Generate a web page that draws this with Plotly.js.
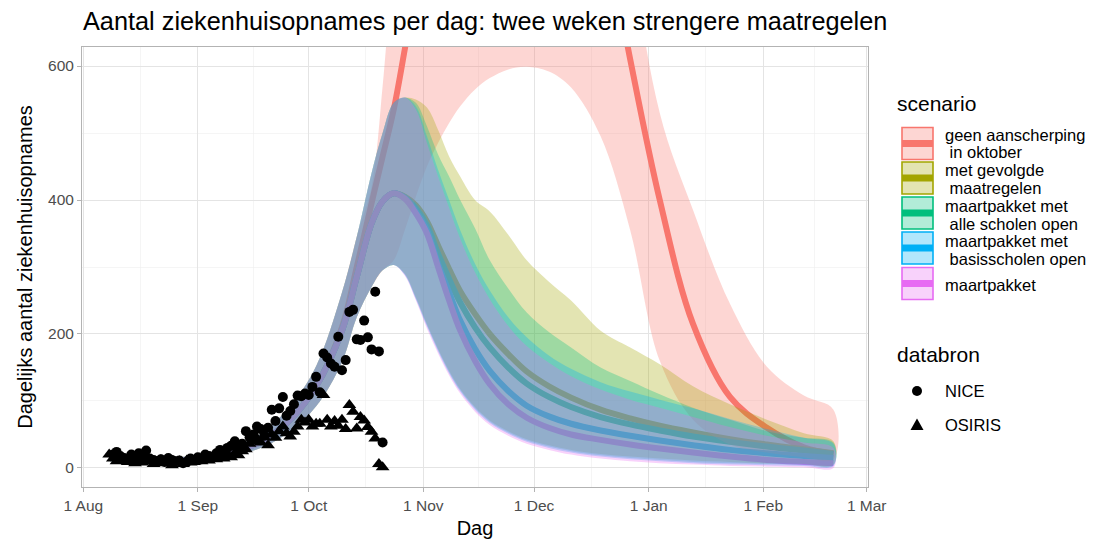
<!DOCTYPE html>
<html><head><meta charset="utf-8">
<script src="https://cdn.plot.ly/plotly-3.0.1.min.js"></script>
<style>html,body{margin:0;padding:0;background:#fff}#chart{width:1093px;height:544px}</style>
</head><body><div id="chart"></div>
<script>
// ---------- data ----------
const modelDates = ['2020-08-08','2020-08-15','2020-08-22','2020-08-29','2020-09-05','2020-09-12','2020-09-19','2020-09-26','2020-10-03','2020-10-10','2020-10-14','2020-10-18','2020-10-21','2020-10-24','2020-10-27','2020-10-30','2020-11-02','2020-11-05','2020-11-08','2020-11-11','2020-11-15','2020-11-19','2020-11-24','2020-11-29','2020-12-05','2020-12-11','2020-12-19','2020-12-27','2021-01-04','2021-01-13','2021-01-23','2021-02-02','2021-02-12','2021-02-20'];

const scenarioNames = ['geen aanscherping in oktober','met gevolgde maatregelen','maartpakket met alle scholen open','maartpakket met basisscholen open','maartpakket'];

const redMed = [15,13,12,12,17,26,42,72,122,210,300,395,465,535,625,720,810,890,960,1020,1080,1120,1140,1130,1090,1010,840,610,400,215,106,60,31,21];
const redUp  = [19,17,16,17,22,34,55,92,152,262,345,420,570,780,1000,1300,1600,1900,2100,2300,2400,2500,2500,2400,2200,1900,1400,800,530,385,245,151,108,87];
const redLo  = [11,10,9,9,13,20,32,55,92,158,225,270,295,310,355,405,450,485,515,540,565,582,595,599,592,568,495,355,160,72,35,23,16,13];

const oliveMed = [15,13,12,12,17,26,42,72,122,205,285,365,398,410,405,392,368,332,297,264,230,200,170,144,122,105,87,74,63,53,43,35,28,22];
const oliveUp  = [19,17,16,17,22,34,55,92,152,262,345,440,500,545,553,550,538,505,465,435,400,383,348,310,278,250,205,180,155,122,95,72,52,40];
const oliveLo  = [11,10,9,9,13,20,32,55,92,158,225,270,295,303,290,255,215,178,145,118,91,71,55,43,34,27,21,17,14,11,9,7,6,5];

const greenMed = [15,13,12,12,17,26,42,72,122,205,285,365,398,410,404,388,362,320,282,247,210,180,150,126,106,91,76,65,56,47,39,32,26,21];
const greenUp  = [19,17,16,17,22,34,55,92,152,262,345,440,500,545,553,545,510,468,435,400,358,310,268,232,203,180,150,130,110,90,72,55,45,38];
const greenLo  = [11,10,9,9,13,20,32,55,92,158,225,270,295,303,289,253,213,176,143,116,89,69,53,41,32,25,19,15,12,9,7,6,5,4];

const blueMed = [15,13,12,12,17,26,42,72,122,205,285,365,398,410,403,383,355,305,262,220,178,145,115,93,77,66,56,48,41,34,27,22,18,15];
const blueUp  = [19,17,16,17,22,34,55,92,152,262,345,440,500,545,553,540,495,445,400,355,305,265,225,195,168,148,128,114,102,89,73,58,45,36];
const blueLo  = [11,10,9,9,13,20,32,55,92,158,225,270,295,303,288,252,211,174,141,114,87,67,51,39,30,23,17,13,10,7,5,4,3,3];

const magMed = [15,13,12,12,17,26,42,72,122,205,285,365,398,410,402,380,350,300,250,205,160,125,95,75,60,50,42,35,29,23,17,12,9,7];
const magUp  = [19,17,16,17,22,34,55,92,152,262,345,440,500,545,553,535,485,435,388,342,292,252,212,182,157,137,117,102,90,76,61,48,38,30];
const magLo  = [11,10,9,9,13,20,32,55,92,158,225,270,295,303,287,250,208,171,138,111,84,64,48,36,27,20,14,10,7,5,3,2,1,0];

const niceDates = ['2020-08-09','2020-08-10','2020-08-11','2020-08-12','2020-08-13','2020-08-14','2020-08-15','2020-08-16','2020-08-17','2020-08-18','2020-08-19','2020-08-20','2020-08-21','2020-08-22','2020-08-23','2020-08-24','2020-08-25','2020-08-26','2020-08-27','2020-08-28','2020-08-29','2020-08-30','2020-08-31','2020-09-01','2020-09-02','2020-09-03','2020-09-04','2020-09-05','2020-09-06','2020-09-07','2020-09-08','2020-09-09','2020-09-10','2020-09-11','2020-09-12','2020-09-13','2020-09-14','2020-09-15','2020-09-16','2020-09-17','2020-09-18','2020-09-19','2020-09-20','2020-09-21','2020-09-22','2020-09-23','2020-09-24','2020-09-25','2020-09-26','2020-09-27','2020-09-28','2020-09-29','2020-09-30','2020-10-01','2020-10-02','2020-10-03','2020-10-04','2020-10-05','2020-10-06','2020-10-07','2020-10-08','2020-10-09','2020-10-10','2020-10-11','2020-10-12','2020-10-13','2020-10-14','2020-10-15','2020-10-16','2020-10-17','2020-10-18','2020-10-19','2020-10-20','2020-10-21'];
const niceValues = [20,24,18,15,14,20,12,22,16,26,14,12,10,13,9,15,12,10,11,7,9,14,12,16,13,20,18,16,22,27,24,30,33,40,28,36,55,46,50,62,58,48,60,87,70,89,106,78,85,95,108,107,111,109,121,136,113,171,165,156,151,196,146,161,233,236,192,191,220,195,177,263,174,38];

const osirisDates = ['2020-08-08','2020-08-09','2020-08-10','2020-08-11','2020-08-12','2020-08-13','2020-08-14','2020-08-15','2020-08-16','2020-08-17','2020-08-18','2020-08-19','2020-08-20','2020-08-21','2020-08-22','2020-08-23','2020-08-24','2020-08-25','2020-08-26','2020-08-27','2020-08-28','2020-08-29','2020-08-30','2020-08-31','2020-09-01','2020-09-02','2020-09-03','2020-09-04','2020-09-05','2020-09-06','2020-09-07','2020-09-08','2020-09-09','2020-09-10','2020-09-11','2020-09-12','2020-09-13','2020-09-14','2020-09-15','2020-09-16','2020-09-17','2020-09-18','2020-09-19','2020-09-20','2020-09-21','2020-09-22','2020-09-23','2020-09-24','2020-09-25','2020-09-26','2020-09-27','2020-09-28','2020-09-29','2020-09-30','2020-10-01','2020-10-02','2020-10-03','2020-10-04','2020-10-05','2020-10-06','2020-10-07','2020-10-08','2020-10-09','2020-10-10','2020-10-11','2020-10-12','2020-10-13','2020-10-14','2020-10-15','2020-10-16','2020-10-17','2020-10-18','2020-10-19','2020-10-20','2020-10-21'];
const osirisValues = [20,14,10,16,12,9,13,7,11,8,12,10,6,9,12,7,9,4,8,10,6,11,8,9,12,10,14,11,15,13,17,14,20,16,22,19,25,28,36,40,44,38,46,34,50,45,55,62,52,47,54,62,72,68,72,62,66,66,109,72,62,70,63,72,58,94,84,59,76,71,61,54,44,6,1];

const xTickVals = ['2020-08-01','2020-09-01','2020-10-01','2020-11-01','2020-12-01','2021-01-01','2021-02-01','2021-03-01'];
const xTickText = ['1 Aug','1 Sep','1 Oct','1 Nov','1 Dec','1 Jan','1 Feb','1 Mar'];
const xMinorVals = ['2020-08-16 12:00','2020-09-16','2020-10-16 12:00','2020-11-16','2020-12-16 12:00','2021-01-16 12:00','2021-02-15'];
const yTickVals = [0,200,400,600];
const yMinorVals = [100,300,500];

// ---------- styles ----------
const colors = ['#F8766D','#A3A500','#00BF7D','#00B0F6','#E76BF3'];
function rgba(hex,a){const n=parseInt(hex.slice(1),16);return `rgba(${n>>16},${(n>>8)&255},${n&255},${a})`;}

const meds = [redMed, oliveMed, greenMed, blueMed, magMed];
const ups = [redUp, oliveUp, greenUp, blueUp, magUp];
const los = [redLo, oliveLo, greenLo, blueLo, magLo];

const traces = [];
// median lines first (ribbons are drawn over them)
for (let i=0;i<5;i++){
  traces.push({type:'scatter',mode:'lines',x:modelDates,y:meds[i],name:scenarioNames[i],
    line:{color:colors[i],width:6,shape:'spline',smoothing:1},showlegend:false,hoverinfo:'skip'});
}
for (let i=0;i<5;i++){
  traces.push({type:'scatter',mode:'lines',
    x:modelDates.concat(modelDates.slice().reverse()),
    y:ups[i].concat(los[i].slice().reverse()),
    fill:'toself',fillcolor:rgba(colors[i],0.3),
    line:{width:0,shape:'spline',smoothing:1,color:'rgba(0,0,0,0)'},showlegend:false,hoverinfo:'skip'});
}
traces.push({type:'scatter',mode:'markers',x:niceDates,y:niceValues,name:'NICE',
  marker:{symbol:'circle',size:10,color:'#000'},showlegend:false});
traces.push({type:'scatter',mode:'markers',x:osirisDates,y:osirisValues,name:'OSIRIS',
  marker:{symbol:'triangle-up',size:12,color:'#000'},showlegend:false});

// ---------- layout ----------
const L=82, R=868, T=47, B=487;
const px = X => (X-L)/(R-L);
const py = Y => (B-Y)/(B-T);
const FONT = 'Liberation Sans, Arial, sans-serif';

const shapes = [], annotations = [];
const boxTops = [127.5,162,197,232,267.5];
for (let i=0;i<5;i++){
  shapes.push({type:'rect',xref:'paper',yref:'paper',x0:px(902),x1:px(933),y0:py(boxTops[i]),y1:py(boxTops[i]+32),
    fillcolor:rgba(colors[i],0.3),line:{color:colors[i],width:1.6},layer:'above'});
  shapes.push({type:'line',xref:'paper',yref:'paper',x0:px(902),x1:px(933),y0:py(boxTops[i]+16),y1:py(boxTops[i]+16),
    line:{color:colors[i],width:7},layer:'above'});
}
const legendLines = [
  ['geen aanscherping',135],['\u00a0in oktober',152],
  ['met gevolgde',170],['\u00a0maatregelen',188],
  ['maartpakket met',206],['\u00a0alle scholen open',224],
  ['maartpakket met',241],['\u00a0basisscholen open',259],
  ['maartpakket',285]
];
legendLines.forEach(([t,y])=>annotations.push({xref:'paper',yref:'paper',x:px(943),y:py(y),text:t,showarrow:false,
  xanchor:'left',yanchor:'middle',font:{family:FONT,size:16.5,color:'#000'}}));
annotations.push({xref:'paper',yref:'paper',x:px(895),y:py(104),text:'scenario',showarrow:false,xanchor:'left',yanchor:'middle',
  font:{family:FONT,size:21,color:'#000'}});
annotations.push({xref:'paper',yref:'paper',x:px(895),y:py(354),text:'databron',showarrow:false,xanchor:'left',yanchor:'middle',
  font:{family:FONT,size:21,color:'#000'}});
annotations.push({xref:'paper',yref:'paper',x:px(943),y:py(391),text:'NICE',showarrow:false,xanchor:'left',yanchor:'middle',
  font:{family:FONT,size:16.5,color:'#000'}});
annotations.push({xref:'paper',yref:'paper',x:px(943),y:py(425),text:'OSIRIS',showarrow:false,xanchor:'left',yanchor:'middle',
  font:{family:FONT,size:16.5,color:'#000'}});
shapes.push({type:'circle',xref:'paper',yref:'paper',xsizemode:'pixel',ysizemode:'pixel',xanchor:px(917),yanchor:py(391),
  x0:-5,x1:5,y0:-5,y1:5,fillcolor:'#000',line:{width:0}});
shapes.push({type:'path',xref:'paper',yref:'paper',xsizemode:'pixel',ysizemode:'pixel',xanchor:px(917),yanchor:py(425),
  path:'M-6.5,-5L6.5,-5L0,6.5Z',fillcolor:'#000',line:{width:0}});

const layout = {
  width:1093,height:544,
  margin:{l:L,r:1093-R,t:T,b:544-B,pad:0},
  paper_bgcolor:'#fff',plot_bgcolor:'#fff',
  showlegend:false,
  font:{family:FONT,color:'#000'},
  title:{text:'Aantal ziekenhuisopnames per dag: twee weken strengere maatregelen',
    x:px(83),xref:'paper',xanchor:'left',y:1-21/544,yref:'container',yanchor:'middle',
    font:{family:FONT,size:25.3,color:'#000'}},
  xaxis:{type:'date',range:['2020-07-31 15:30','2021-03-01 08:30'],
    tickmode:'array',tickvals:xTickVals,ticktext:xTickText,
    tickfont:{family:FONT,size:15.5,color:'#4D4D4D'},
    ticks:'outside',ticklen:4,tickcolor:'#B3B3B3',tickwidth:1,
    showgrid:true,gridcolor:'#E4E4E4',gridwidth:1,
    minor:{tickmode:'array',tickvals:xMinorVals,showgrid:true,gridcolor:'#EEEEEE',gridwidth:0.6,ticks:''},
    showline:true,mirror:true,linecolor:'#B3B3B3',linewidth:1,zeroline:false,
    title:{text:'Dag',font:{family:FONT,size:20,color:'#000'},standoff:8}},
  yaxis:{range:[-28.4,628.4],tickmode:'array',tickvals:yTickVals,ticktext:yTickVals.map(String),
    tickfont:{family:FONT,size:15.5,color:'#4D4D4D'},
    ticks:'outside',ticklen:4,tickcolor:'#B3B3B3',tickwidth:1,
    showgrid:true,gridcolor:'#E4E4E4',gridwidth:1,
    minor:{tickmode:'array',tickvals:yMinorVals,showgrid:true,gridcolor:'#EEEEEE',gridwidth:0.6,ticks:''},
    showline:true,mirror:true,linecolor:'#B3B3B3',linewidth:1,zeroline:false,
    title:{text:'Dagelijks aantal ziekenhuisopnames',font:{family:FONT,size:20,color:'#000'},standoff:10}},
  shapes:shapes,annotations:annotations
};
Plotly.newPlot('chart',traces,layout,{displayModeBar:false,staticPlot:true});
</script></body></html>
